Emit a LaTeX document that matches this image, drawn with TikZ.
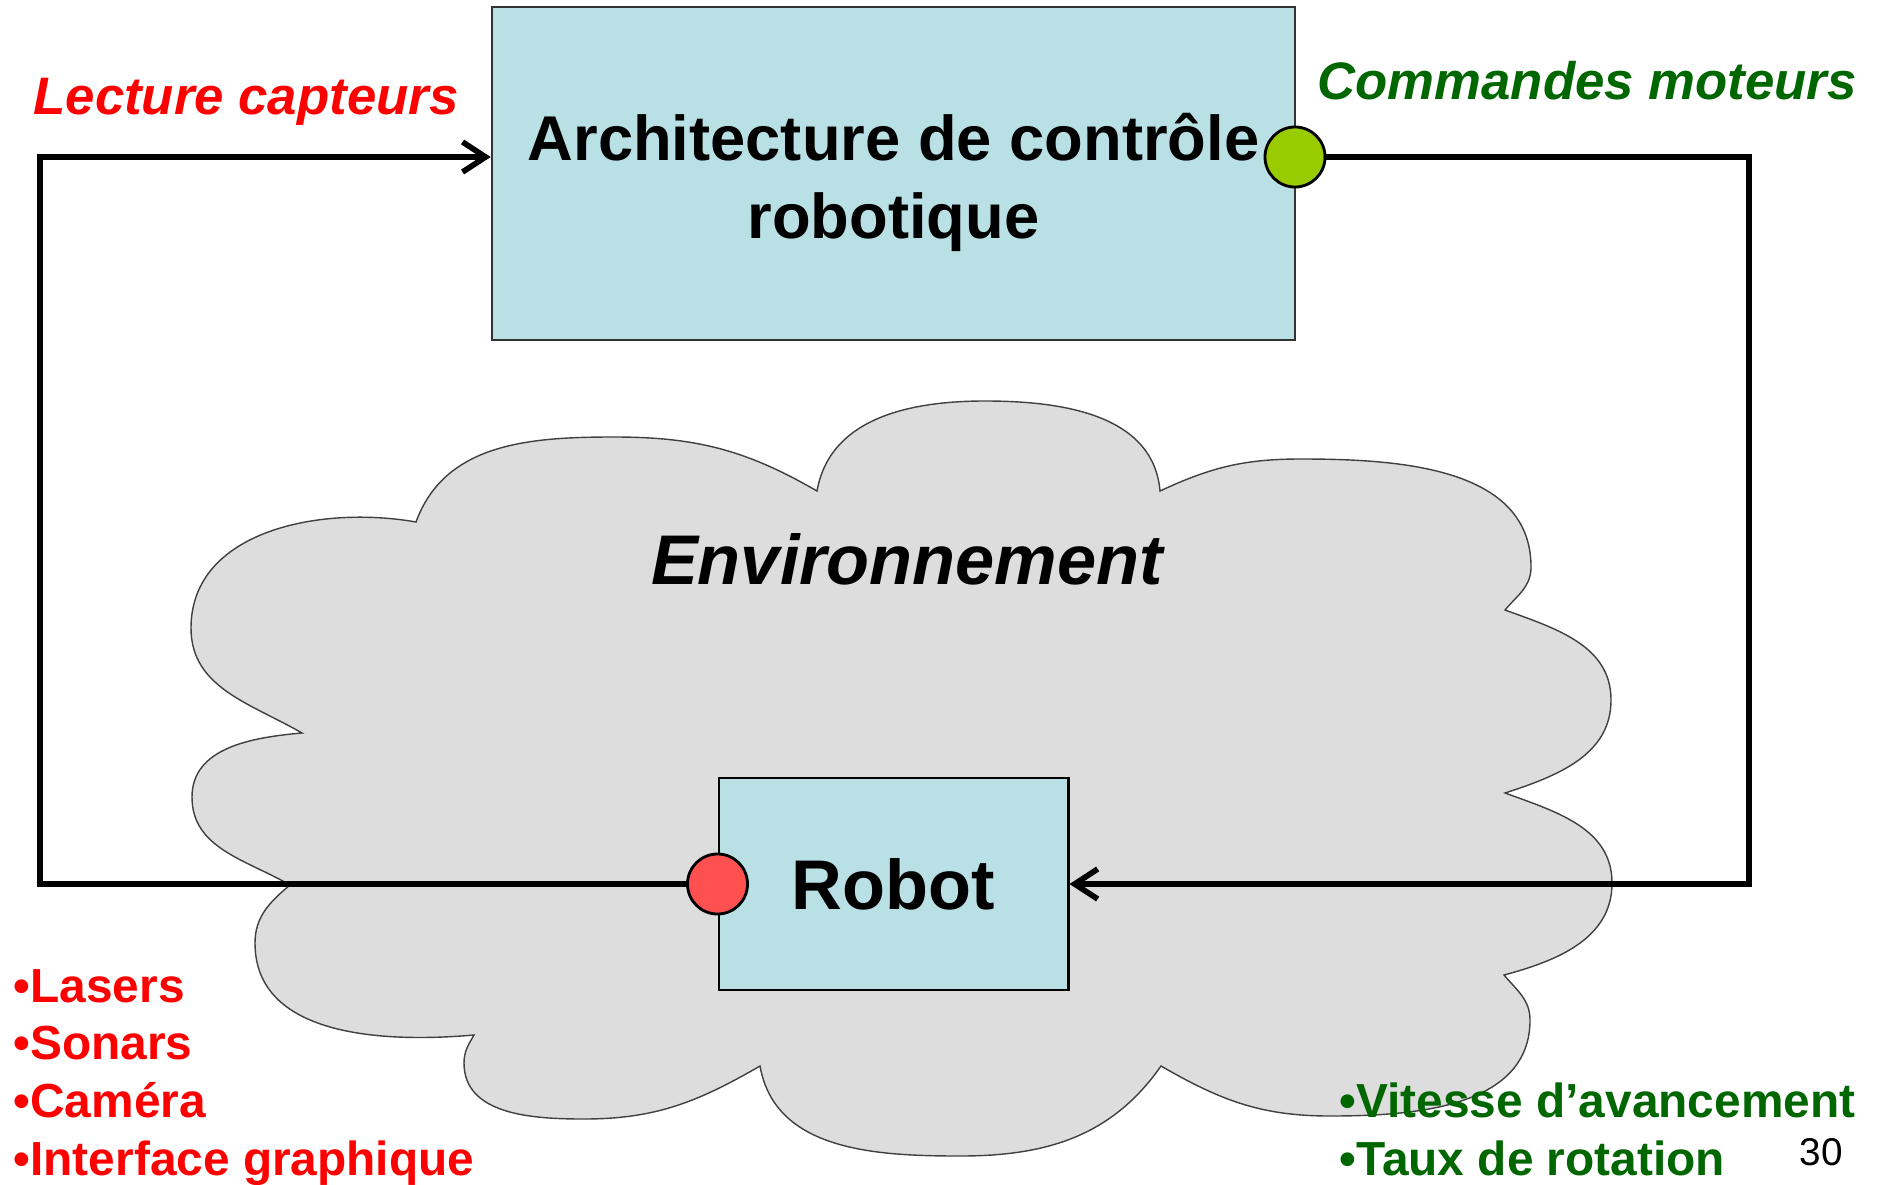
\documentclass[tikz,border=0pt]{standalone}
\usepackage{fontspec}
\setmainfont{Liberation Sans}
\usetikzlibrary{arrows.meta}
\definecolor{boxblue}{RGB}{185,224,228}
\definecolor{cloudgray}{RGB}{221,221,221}
\definecolor{sensred}{RGB}{255,0,0}
\definecolor{motgreen}{RGB}{0,102,0}
\definecolor{portgreen}{RGB}{153,204,0}
\definecolor{portred}{RGB}{255,80,80}

\begin{document}
\begin{tikzpicture}[x=0.01cm, y=0.01cm,
    >={Straight Barb[length=2.3mm,width=3mm]},
    bloc/.style={fill=boxblue, align=center},
    port/.style={circle, draw=black, line width=.8pt, minimum size=6mm, inner sep=0pt},
    wire/.style={line width=1.6pt, line cap=round},
    lbl/.style={anchor=base, font=\bfseries\itshape\fontsize{15}{18}\selectfont},
    item/.style={anchor=base west, inner sep=0pt, font=\bfseries\fontsize{13.6}{16}\selectfont}]
    \useasboundingbox (0,0) rectangle (1883,1184);

    \draw [draw=black!75, fill=cloudgray, line width=.4pt]
        (302,451) to[out=150,in=270] (191,556) to[out=90,in=170] (416,662)
        to[out=70,in=180] (614,747) to[out=0,in=150] (817,693)
        to[out=80,in=180] (985,783) to[out=0,in=95] (1160,693)
        to[out=25,in=180] (1301,725) to[out=0,in=90] (1531,617) to[out=270,in=50] (1505,574)
        to[out=-20,in=90] (1611,484) to[out=270,in=18] (1505,391)
        to[out=-20,in=90] (1612,301) to[out=270,in=15] (1504,209)
        to[out=-50,in=90] (1530,164) to[out=270,in=0] (1330,68) to[out=180,in=-30] (1161,118)
        to[out=235,in=0] (960,28) to[out=180,in=-80] (760,118)
        to[out=210,in=0] (584,65) to[out=180,in=270] (464,121) to[out=90,in=240] (474,149)
        to[out=185,in=270] (255,241) to[out=90,in=220] (290,299)
        to[out=150,in=270] (192,387) to[out=90,in=185] (302,451) -- cycle;

    \node [bloc, draw=black!80, line width=.6pt, minimum width=8.03cm, minimum height=3.33cm,
        text height=40.6pt, font=\bfseries\fontsize{18}{22.2}\selectfont] (arch) at (893.5,1010.5)
        {Architecture de contrôle\\robotique};
    \node [bloc, draw=black, line width=.8pt, minimum width=3.49cm, minimum height=2.12cm,
        font=\bfseries\fontsize{20}{24}\selectfont] (robot) at (893.5,300) {Robot};

    \node [port, fill=portgreen] (cmd) at (1295,1027) {};
    \node [port, fill=portred] (sens) at (robot.west) {};

    \coordinate (left) at (40,1027);
    \coordinate (right) at (1749,300);
    \coordinate (archin) at (arch.west |- cmd);

    \draw [wire,->] (sens) -| (left) -- (archin);
    \draw [wire,->] (cmd) -| (right) -- (robot.east);

    \node [lbl, text=sensred] (lecture) at (246,1069) {Lecture capteurs};
    \node [lbl, text=motgreen] (commandes) at (1587,1084) {Commandes moteurs};
    \node [anchor=base, font=\bfseries\itshape\fontsize{20}{24}\selectfont] (env) at (907,600) {Environnement};

    \node [item, text=sensred] (lasers) at (13,182) {•Lasers};
    \node [item, text=sensred] (sonars) at (13,125) {•Sonars};
    \node [item, text=sensred] (camera) at (13,67) {•Caméra};
    \node [item, text=sensred] (iface) at (13,9) {•Interface graphique};
    \node [item, text=motgreen] (vitesse) at (1339,67) {•Vitesse d’avancement};
    \node [item, text=motgreen] (taux) at (1339,9) {•Taux de rotation};

    \node [anchor=base, font=\fontsize{11}{13}\selectfont] (page) at (1821,19) {30};
\end{tikzpicture}
\end{document}
